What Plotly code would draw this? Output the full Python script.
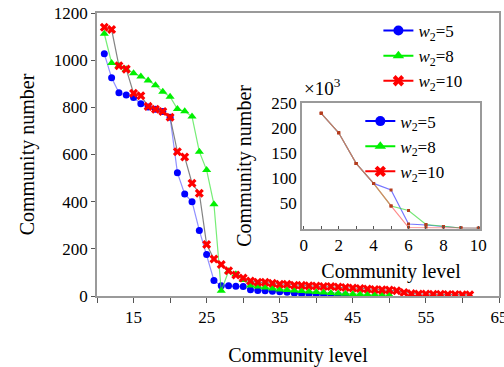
import plotly.graph_objects as go

# ---------------- data ----------------
blue_levels = list(range(11, 45))
blue_vals = [1027, 925, 862, 852, 842, 815, 801, 792, 782, 758, 523, 432, 400, 278, 176, 66,
             43, 43, 41, 40, 27, 23, 22, 20, 18, 16, 12, 9, 8, 7, 6, 5, 4, 3]
green_levels = list(range(11, 51))
green_vals = [1112, 988, 976, 962, 945, 931, 914, 894, 866, 845, 793, 783, 761, 612, 534, 389,
              22, 105, 92, 68, 45, 40, 36, 32, 28, 25, 23, 21, 19, 17, 15, 13, 11, 10, 8, 7, 6, 5, 4, 4]
red_levels = list(range(11, 62))
red_vals = [1140, 1130, 976, 962, 860, 849, 804, 792, 782, 758, 612, 589, 478, 436, 218, 157,
            134, 107, 89, 76, 64, 58, 58, 54, 50, 50, 46, 45, 43, 42, 40, 40, 38, 36, 34, 32,
            30, 28, 26, 25, 22, 15, 10, 8, 8, 7, 7, 6, 6, 5, 5]

inset_levels = [1, 2, 3, 4, 5, 6, 7, 8, 9, 10]
inset_blue = [230, 191, 130, 90, 77, 9, 7, 4, 1, 0.5]
inset_green = [230, 191, 130, 90, 45, 36, 8, 4, 1, 0.5]
inset_red = [230, 191, 130, 90, 45, 2, 1.5, 1, 1, 0.5]

names = ["<i>w</i><sub>2</sub>=5", "<i>w</i><sub>2</sub>=8", "<i>w</i><sub>2</sub>=10"]
main_x_ticks = [10, 15, 20, 25, 30, 35, 40, 45, 50, 55, 60, 65]
main_x_text = ["", "15", "", "25", "", "35", "", "45", "", "55", "", "65"]
main_y_ticks = [0, 200, 400, 600, 800, 1000, 1200]
inset_x_ticks = [0, 1, 2, 3, 4, 5, 6, 7, 8, 9, 10]
inset_x_text = ["0", "", "2", "", "4", "", "6", "", "8", "", "10"]
inset_y_ticks = [50, 100, 150, 200, 250]

BLUE = "rgb(0,0,255)"
GREEN = "rgb(0,240,0)"
RED = "rgb(255,0,0)"
FAM = "Times New Roman"


def F(size=20):
    return dict(family=FAM, size=size, color="black")


fig = go.Figure()

# main series
fig.add_trace(go.Scatter(x=blue_levels, y=blue_vals, mode="lines+markers", showlegend=False,
                         line=dict(color="rgba(70,70,255,0.6)", width=1.2),
                         marker=dict(symbol="circle", size=7, color=BLUE)))
fig.add_trace(go.Scatter(x=green_levels, y=green_vals, mode="lines+markers", showlegend=False,
                         line=dict(color="rgba(60,230,60,0.7)", width=1.2),
                         marker=dict(symbol="triangle-up", size=8, color=GREEN)))
fig.add_trace(go.Scatter(x=red_levels, y=red_vals, mode="lines+markers", showlegend=False,
                         line=dict(color="rgba(100,100,100,0.8)", width=1.2),
                         marker=dict(symbol="x", size=8, color=RED, line=dict(width=0))))

# main legend entries
for nm, col, sym in zip(names, [BLUE, GREEN, RED], ["circle", "triangle-up", "x"]):
    fig.add_trace(go.Scatter(x=[None], y=[None], mode="lines+markers", name=nm, legend="legend",
                             line=dict(color=col, width=2), marker=dict(symbol=sym, size=10, color=col)))

# inset series
for vals, col in zip([inset_blue, inset_green, inset_red],
                     ["rgba(60,60,255,0.7)", "rgba(60,220,60,0.7)", "rgba(255,90,90,0.7)"]):
    fig.add_trace(go.Scatter(x=inset_levels, y=vals, mode="lines+markers", showlegend=False,
                             xaxis="x2", yaxis="y2",
                             line=dict(color=col, width=1.2),
                             marker=dict(symbol="square", size=3, color="rgb(180,60,30)")))

# inset legend entries
for nm, col, sym in zip(names, [BLUE, GREEN, RED], ["circle", "triangle-up", "x"]):
    fig.add_trace(go.Scatter(x=[None], y=[None], mode="lines+markers", name=nm, legend="legend2",
                             xaxis="x2", yaxis="y2",
                             line=dict(color=col, width=2), marker=dict(symbol=sym, size=10, color=col)))

axcol = "#9a9a9a"
TICKF = dict(family=FAM, size=17, color="black")
fig.update_layout(
    template="none",
    width=504, height=367,
    margin=dict(l=97, r=5, t=13, b=71),
    paper_bgcolor="white", plot_bgcolor="white",
    font=F(),
    xaxis=dict(domain=[0, 1], range=[10, 65], tickmode="array", tickvals=main_x_ticks,
               ticktext=main_x_text, ticks="outside", ticklen=5, tickcolor="#555",
               tickfont=TICKF, ticklabeloverflow="allow", automargin=False,
               showline=True, linecolor=axcol, linewidth=1.5, mirror=True,
               showgrid=False, zeroline=False,
               title=dict(text="Community level", standoff=23, font=F())),
    yaxis=dict(domain=[0, 1], range=[0, 1200], tickmode="array", tickvals=main_y_ticks,
               ticks="outside", ticklen=4, tickcolor="#555", tickfont=TICKF, automargin=False,
               showline=True, linecolor=axcol, linewidth=1.5, mirror=True,
               showgrid=False, zeroline=False,
               title=dict(text="Community number", standoff=14, font=F())),
    xaxis2=dict(domain=[0.51, 0.953], anchor="y2", range=[-0.1, 10.1], tickmode="array",
                tickvals=inset_x_ticks, ticktext=inset_x_text, ticks="inside", ticklen=3,
                tickcolor="#555", tickfont=TICKF, showline=True, linecolor=axcol, linewidth=1.5,
                mirror=True, showgrid=False, zeroline=False, automargin=False,
                title=dict(text="Community level", standoff=10, font=F())),
    yaxis2=dict(domain=[0.2385, 0.681], anchor="x2", range=[0, 250], tickmode="array",
                tickvals=inset_y_ticks, ticks="", tickfont=TICKF, showline=True, linecolor=axcol,
                linewidth=1.5, mirror=True, showgrid=False, zeroline=False, automargin=False,
                title=dict(text="Community number", standoff=14, font=F())),
    legend=dict(x=0.70, y=1.0, xanchor="left", yanchor="top", bgcolor="rgba(0,0,0,0)",
                borderwidth=0, font=F(17), tracegroupgap=0),
    legend2=dict(x=0.655, y=0.68, xanchor="left", yanchor="top", bgcolor="rgba(0,0,0,0)",
                 borderwidth=0, font=F(17), tracegroupgap=0),
    annotations=[dict(text="×10<sup>3</sup>", xref="paper", yref="paper", x=0.51, y=0.69,
                      xanchor="left", yanchor="bottom", showarrow=False, font=F(19))],
)

fig.write_html("out.html", config={"displayModeBar": False},
               post_script="document.body.style.margin='0';")
